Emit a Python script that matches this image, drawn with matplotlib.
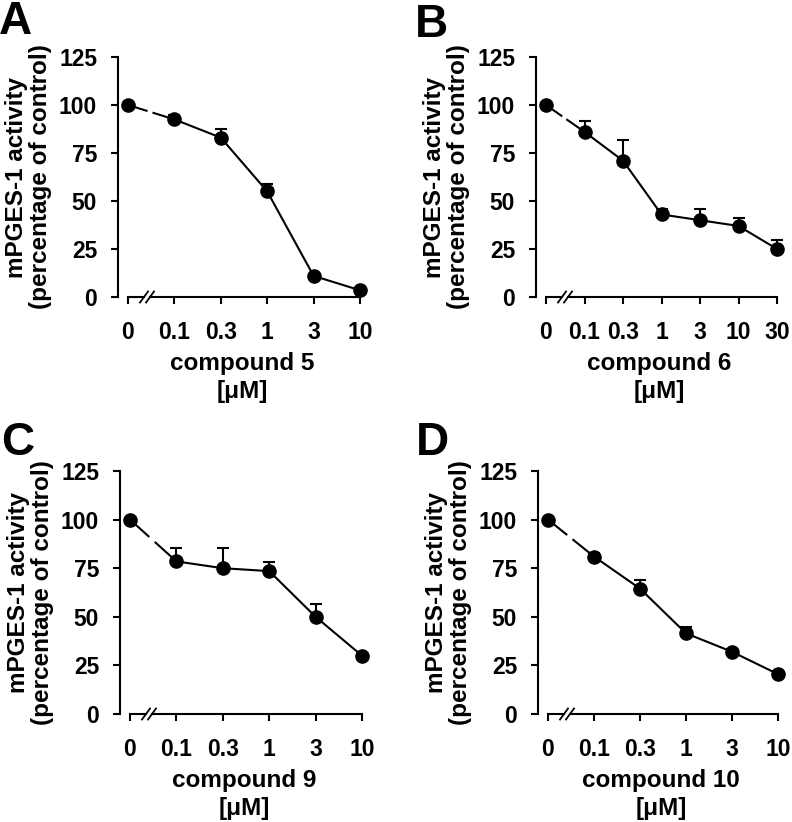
import numpy as np
import matplotlib
matplotlib.use("Agg")
import matplotlib.pyplot as plt

plt.rcParams['font.family'] = ['Liberation Sans', 'DejaVu Sans']
plt.rcParams['font.weight'] = 'bold'

# data (mPGES-1 activity, % of control, mean and upper SEM)
conc_A = ["0", "0.1", "0.3", "1", "3", "10"]
act_A = [100, 92.5, 83, 55, 11, 3.5]
err_A = [0, 2.5, 4.5, 4, 1, 1]

conc_B = ["0", "0.1", "0.3", "1", "3", "10", "30"]
act_B = [100, 86, 71, 43, 40, 37, 25]
err_B = [0, 5.5, 11, 3, 6, 4, 4.5]

conc_C = ["0", "0.1", "0.3", "1", "3", "10"]
act_C = [100, 78.5, 75, 73.5, 50, 30]
err_C = [0, 7, 10.5, 4.5, 6.5, 0.5]

conc_D = ["0", "0.1", "0.3", "1", "3", "10"]
act_D = [100, 81, 64.5, 41.5, 32, 20.5]
err_D = [0, 2, 4.5, 3, 1.5, 1.5]

letters = ["A", "B", "C", "D"]
compounds = ["compound 5", "compound 6", "compound 9", "compound 10"]

W, H = 792, 822
fig = plt.figure(figsize=(W / 100, H / 100), dpi=100)

# pixel layout: axis left, first tick x, tick step, y of 0, y of 125
layout = [(118, 128, 46.4, 297, 57),
          (536, 546, 38.5, 297, 57),
          (120, 130, 46.4, 714, 471),
          (538, 548, 46.0, 714, 471)]
letter_pos = [(-1, 0), (415, 3), (1, 421), (416, 421)]

panels = [(conc_A, act_A, err_A), (conc_B, act_B, err_B),
          (conc_C, act_C, err_C), (conc_D, act_D, err_D)]

for i, (conc, act, err) in enumerate(panels):
    axl, x0, step, y0, y1 = layout[i]
    n = len(conc)
    right = x0 + (n - 1) * step + 6
    ax = fig.add_axes([axl / W, (H - y0) / H, (right - axl) / W, (y0 - y1) / H])
    ax.set_xlim(-(x0 - axl) / step, n - 1 + 6 / step)
    ax.set_ylim(0, 125)
    x = np.arange(n)
    act = np.array(act, dtype=float)

    # broken segment between 0 and 0.1
    g1, g2 = 0.40, 0.55
    yg1 = np.interp(g1, [0, 1], act[:2])
    yg2 = np.interp(g2, [0, 1], act[:2])
    ax.plot([0, g1], [act[0], yg1], color='black', lw=1.5, clip_on=False)
    ax.plot([g2, 1], [yg2, act[1]], color='black', lw=1.5, clip_on=False)
    ax.plot(x[1:], act[1:], color='black', lw=1.5, clip_on=False)
    ax.errorbar(x, act, yerr=[np.zeros(n), err], fmt='none', ecolor='black',
                elinewidth=1.5, capsize=4.5, capthick=1.5, clip_on=False)
    ax.plot(x, act, 'o', color='black', ms=9.5, clip_on=False, zorder=5)

    # x axis with break marks
    ux = 1.0 / step
    uy = 125.0 / (y0 - y1)
    b1 = 16 * ux
    b2 = b1 + 6 * ux
    ax.spines['bottom'].set_visible(False)
    ax.spines['top'].set_visible(False)
    ax.spines['right'].set_visible(False)
    ax.spines['left'].set_linewidth(1.5)
    ax.spines['left'].set_bounds(0, 125)
    ax.plot([0, b1], [0, 0], color='black', lw=1.5, clip_on=False)
    ax.plot([b2, n - 1], [0, 0], color='black', lw=1.5, clip_on=False)
    for b in (b1, b2):
        ax.plot([b - 4 * ux, b + 4 * ux], [-5.5 * uy, 5.5 * uy], color='black',
                lw=1.3, clip_on=False)

    ax.set_xticks(x)
    ax.set_xticklabels(conc)
    ax.set_yticks([0, 25, 50, 75, 100, 125])
    ax.tick_params(axis='x', length=5, width=1.5, pad=12, labelsize=16.5)
    ax.tick_params(axis='y', length=5, width=1.5, pad=10, labelsize=16.5)
    ax.set_ylabel("mPGES-1 activity\n(percentage of control)", fontsize=17.5,
                  fontweight='bold', linespacing=1.05, labelpad=5)
    ax.set_xlabel(compounds[i] + "\n[\u03bcM]", fontsize=17.5, fontweight='bold',
                  linespacing=1.3, labelpad=6)

    lx, ly = letter_pos[i]
    fig.text(lx / W, 1 - ly / H, letters[i], fontsize=33, fontweight='bold',
             ha='left', va='top')

fig.savefig("out.png", dpi=100)
